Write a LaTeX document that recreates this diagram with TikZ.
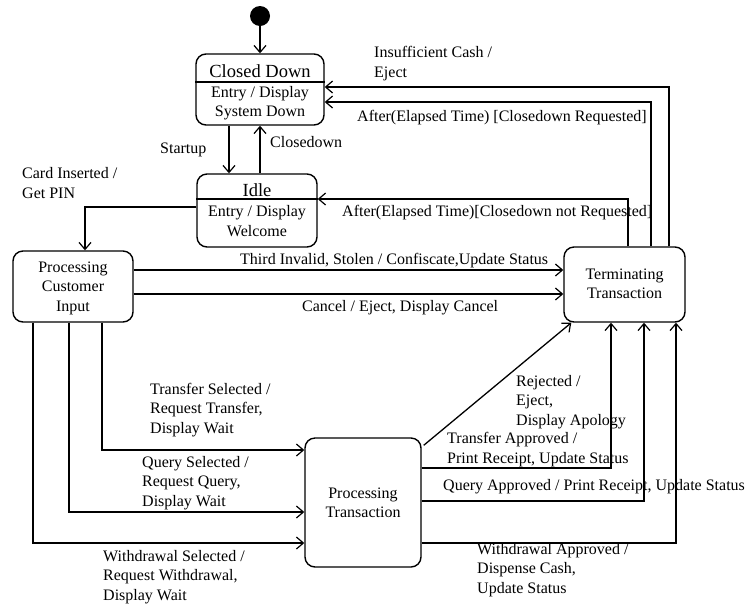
\documentclass[tikz,border=0pt]{standalone}
\usepackage{fontspec}
\setmainfont{Liberation Serif}
\usetikzlibrary{arrows.meta}
\begin{document}
\begin{tikzpicture}[x=1pt,y=-1pt,
  state/.style={draw, line width=1.4pt, rounded corners=10pt, inner sep=0pt},
  txt/.style={inner sep=0pt, align=center, font=\fontsize{16}{19.5}\selectfont},
  title/.style={inner sep=0pt, font=\fontsize{18.5}{21}\selectfont},
  lbl/.style={anchor=west, inner sep=0pt, align=left, font=\fontsize{16}{19.5}\selectfont},
  tr/.style={line width=1.3pt, -{Straight Barb[length=7pt,width=12pt,line width=1.2pt]}},
  thk/.style={line width=1.8pt},
  divider/.style={line width=1.9pt}
]
\useasboundingbox (0,0) rectangle (746,606);

% initial pseudo-state
\node[circle, fill, minimum size=20pt, inner sep=0pt] (init) at (260,16) {};

% states with a name compartment
\node[state, minimum width=128pt, minimum height=71pt] (cd) at (260,89.5) {};
\node[title] (cdname) at (260,71) {Closed Down};
\node[txt] (cdact) at (260,103) {Entry / Display\\System Down};
\draw[divider] (cd.west |- 0,82) -- (cd.east |- 0,82);

\node[state, minimum width=120pt, minimum height=73pt] (idle) at (257,210.5) {};
\node[title] (idlename) at (257,190) {Idle};
\node[txt] (idleact) at (257,221) {Entry / Display\\Welcome};
\draw[divider] (idle.west |- 0,199) -- (idle.east |- 0,199);

% simple states
\node[state, minimum width=120pt, minimum height=71pt] (pci) at (73,286.5) {};
\node[txt] (pcitext) at (73,288) {Processing\\Customer\\Input};

\node[state, minimum width=121pt, minimum height=75pt] (term) at (624.5,284.5) {};
\node[txt] (termtext) at (624.5,284) {Terminating\\Transaction};

\node[state, minimum width=116pt, minimum height=129pt] (pt) at (363,502.5) {};
\node[txt] (pttext) at (363,503) {Processing\\Transaction};

% transitions
\draw[tr] (init) -- (cd);
\draw[tr] (cd.south -| 229,0) -- (idle.north -| 229,0);
\draw[tr] (idle.north -| 260,0) -- (cd.south -| 260,0);

\draw[tr] (term.north -| 669,0) |- (cd.east |- 0,87);
\draw[tr] (term.north -| 651,0) |- (cd.east |- 0,102);
\draw[tr] (term.north -| 628,0) |- (idle.east |- 0,199);
\draw[thk] (term.north -| 669,0) -- ++(0,-40);
\draw[thk] (term.north -| 651,0) -- ++(0,-40);

\draw[tr, thk] (idle.west |- 0,207) -| (pci.north -| 85,0);

\draw[tr] (pci.east |- 0,270) -- (term.west |- 0,270);
\draw[tr] (pci.east |- 0,294) -- (term.west |- 0,294);

\draw[tr] (pci.south -| 102,0) |- (pt.west |- 0,450);
\draw[tr] (pci.south -| 69,0) |- (pt.west |- 0,512);
\draw[tr] (pci.south -| 33,0) |- (pt.west |- 0,543);
\draw[thk] (pci.south -| 69,0) -- (69,512);
\draw[thk] (pci.south -| 33,0) -- (33,543);

\draw[tr] ([shift={(2,8)}]pt.north east) -- ([xshift=8pt]term.south west);
\draw[tr] (pt.east |- 0,468) -| (term.south -| 611,0);
\draw[tr] (pt.east |- 0,501) -| (term.south -| 644,0);
\draw[tr] (pt.east |- 0,543) -| (term.south -| 676,0);

% transition labels
\node[lbl] (l1) at (374,63.5) {Insufficient Cash /\\Eject};
\node[lbl] (l2) at (357,118) {After(Elapsed Time) [Closedown Requested]};
\node[lbl] (l3) at (160,150) {Startup};
\node[lbl] (l4) at (270,142) {Closedown};
\node[lbl] (l5) at (22,183) {Card Inserted /\\Get PIN};
\node[lbl] (l6) at (342,213) {After(Elapsed Time)[Closedown not Requested]};
\node[lbl] (l7) at (240,261) {Third Invalid, Stolen / Confiscate,Update Status};
\node[lbl] (l8) at (302,308) {Cancel / Eject, Display Cancel};
\node[lbl] (l9) at (150,410) {Transfer Selected /\\Request Transfer,\\Display Wait};
\node[lbl] (l10) at (142,483) {Query Selected /\\Request Query,\\Display Wait};
\node[lbl] (l11) at (103,577) {Withdrawal Selected /\\Request Withdrawal,\\Display Wait};
\node[lbl] (l12) at (516,402) {Rejected /\\Eject,\\Display Apology};
\node[lbl] (l13) at (447,449.5) {Transfer Approved /\\Print Receipt, Update Status};
\node[lbl] (l14) at (443,487) {Query Approved / Print Receipt, Update Status};
\node[lbl] (l15) at (477,570) {Withdrawal Approved /\\Dispense Cash,\\Update Status};
\end{tikzpicture}
\end{document}
